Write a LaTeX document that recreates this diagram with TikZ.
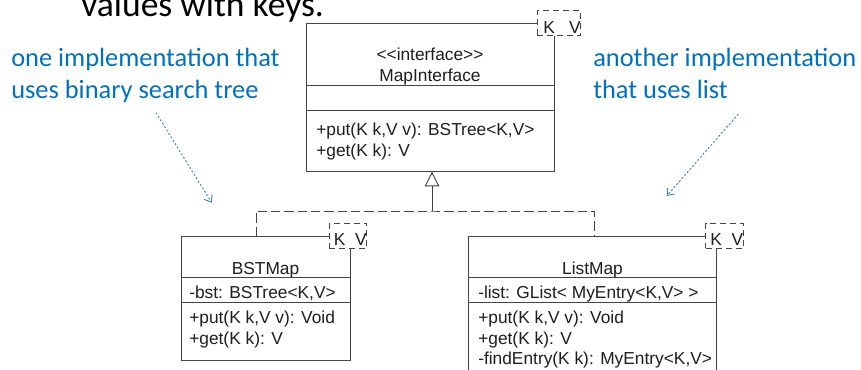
\documentclass[tikz,border=0pt]{standalone}
\usepackage{fontspec}
\setmainfont{Liberation Sans}
\newfontfamily\slidefont{Carlito}
\newfontfamily\umlfont{Liberation Sans}
\usetikzlibrary{arrows.meta}

\definecolor{umlgray}{HTML}{444444}
\definecolor{umlink}{HTML}{1E1E1E}
\definecolor{noteblue}{HTML}{0070C0}
\definecolor{notearrow}{HTML}{4A7EBB}

\newcommand\umlsize{\umlfont\fontsize{13pt}{15pt}\selectfont}
\newcommand\notesize{\slidefont\fontsize{19.8pt}{24pt}\selectfont}
\newcommand\titlesize{\slidefont\fontsize{26.7pt}{32pt}\selectfont}

\begin{document}
\begin{tikzpicture}[x=0.75pt,y=-0.75pt,
  umlline/.style={draw=umlgray, line width=0.7pt},
  classbox/.style={umlline, fill=white, anchor=north west, inner sep=0pt, outer sep=0pt},
  kvbox/.style={draw=umlgray, line width=0.7pt, fill=white, dash pattern=on 4.5pt off 3pt,
                inner sep=0pt, outer sep=0pt, minimum height=18.75pt},
  realize/.style={umlline, dash pattern=on 7pt off 3pt},
  umltext/.style={font=\umlsize, text=umlink, inner sep=0pt, anchor=base west},
  umlcenter/.style={umltext, anchor=base},
  note/.style={font=\notesize, text=noteblue, inner sep=0pt, anchor=base west},
  notearrowstyle/.style={draw=notearrow, line width=0.7pt, dash pattern=on 1.5pt off 1.5pt,
                         -{Straight Barb[length=4.5pt, width=7pt]}}]
\useasboundingbox (0,0) rectangle (861,370);
\clip (0,0) rectangle (861,370);

% slide title, partly above the visible area
\node[font=\titlesize, text=black, inner sep=0pt, anchor=base west] (title) at (81,16.7) {values with keys.};

% notes
\node[note] (leftnote1) at (11,67) {one implementation that};
\node[note] (leftnote2) at (11,99) {uses binary search tree};
\node[note] (rightnote1) at (593,67) {another implementation};
\node[note] (rightnote2) at (593,99) {that uses list};

\coordinate (lstart) at (156,112.7);
\coordinate (lend) at (211.7,202.7);
\coordinate (rstart) at (738.3,114);
\coordinate (rend) at (666.7,196);
\draw[notearrowstyle] (lstart) -- (lend);
\draw[notearrowstyle] (rstart) -- (rend);

% interface MapInterface
\node[classbox, minimum width=186pt, minimum height=111.3pt] (mi) at (306,23.3) {};
\draw[umlline] (306,85.7) -- (554,85.7);
\draw[umlline] (306,110) -- (554,110);
\node[umlcenter] (mistereo) at (430,60.5) {<{}<interface>{}>};
\node[umlcenter] (miname) at (430,82) {MapInterface};
\node[umltext] (miop1) at (316,136) {+put(K k,V v): BSTree<K,V>};
\node[umltext] (miop2) at (316,156.7) {+get(K k): V};
\node[kvbox, minimum width=32.5pt] (mikv) at (559,23.2) {};
\node[umltext] (mik) at (543,33.3) {K};
\node[umltext, anchor=base east] (miv) at (581,33.3) {V};

% class BSTMap
\node[classbox, minimum width=126.75pt, minimum height=93pt] (bst) at (181,236) {};
\draw[umlline] (181,277.7) -- (350,277.7);
\draw[umlline] (181,302) -- (350,302);
\node[umlcenter] (bstname) at (265.5,274.3) {BSTMap};
\node[umltext] (bstattr) at (189,299) {-bst: BSTree<K,V>};
\node[umltext] (bstop1) at (189,324) {+put(K k,V v): Void};
\node[umltext] (bstop2) at (189,345) {+get(K k): V};
\node[kvbox, minimum width=28.3pt] (bstkv) at (347.9,235.8) {};
\node[umltext] (bstk) at (333.5,245.7) {K};
\node[umltext, anchor=base east] (bstv) at (367,245.7) {V};

% class ListMap
\node[classbox, minimum width=186.3pt, minimum height=109.5pt] (lm) at (468.3,236) {};
\draw[umlline] (468.3,277.7) -- (716.7,277.7);
\draw[umlline] (468.3,302) -- (716.7,302);
\node[umlcenter] (lmname) at (592.5,274.3) {ListMap};
\node[umltext] (lmattr) at (478,299) {-list: GList< MyEntry<K,V> >};
\node[umltext] (lmop1) at (478,324) {+put(K k,V v): Void};
\node[umltext] (lmop2) at (478,345) {+get(K k): V};
\node[umltext] (lmop3) at (478,365) {-findEntry(K k): MyEntry<K,V>};
\node[kvbox, minimum width=28.2pt] (lmkv) at (724.5,235.8) {};
\node[umltext] (lmk) at (710,245.7) {K};
\node[umltext, anchor=base east] (lmv) at (743.5,245.7) {V};

% realization of the interface
\coordinate (hub) at (432,211);
\draw[realize] ([xshift=-7.1pt]bst.north) |- (hub) -| ([xshift=1.1pt]lm.north);
\draw[umlline, -{Triangle[open, length=11pt, width=11pt]}] (hub) -- (hub |- mi.south);
\end{tikzpicture}
\end{document}
